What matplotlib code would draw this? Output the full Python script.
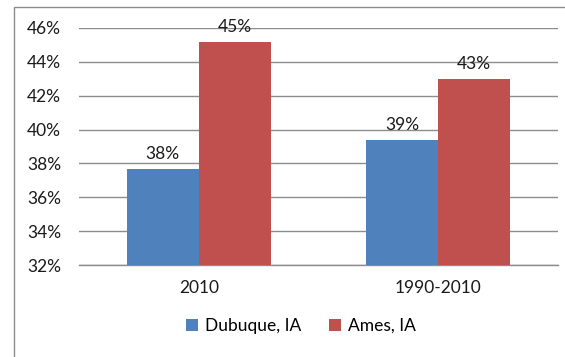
import matplotlib
matplotlib.use("Agg")
import matplotlib.pyplot as plt
from matplotlib.patches import Rectangle
import numpy as np

categories = ["2010", "1990-2010"]
series_names = ["Dubuque, IA", "Ames, IA"]
dubuque = [37.7, 39.4]
ames = [45.2, 43.0]
dubuque_labels = ["38%", "39%"]
ames_labels = ["45%", "43%"]
yticks = [32, 34, 36, 38, 40, 42, 44, 46]
ytick_labels = ["32%", "34%", "36%", "38%", "40%", "42%", "44%", "46%"]

colors = ["#4F81BD", "#C0504D"]
plt.rcParams["font.family"] = ["Lato", "DejaVu Sans"]
FS = 12.5
TXT = "#1a1a1a"

W, H = 565, 357
fig = plt.figure(figsize=(W / 100, H / 100), dpi=100)

# outer chart frame
fig.patches.append(Rectangle((14 / W, -0.1), 1.2, 1 - 7 / H + 0.1,
                             transform=fig.transFigure, fill=False,
                             edgecolor="#8c8c8c", linewidth=1.0))

ax = fig.add_axes([79 / W, 1 - 265 / H, (558 - 79) / W, (265 - 28) / H])
x = np.arange(len(categories))
bw = 0.3
b1 = ax.bar(x - bw / 2, dubuque, bw, color=colors[0], label=series_names[0], zorder=3)
b2 = ax.bar(x + bw / 2, ames, bw, color=colors[1], label=series_names[1], zorder=3)

for bars, labels in ((b1, dubuque_labels), (b2, ames_labels)):
    for rect, lab in zip(bars, labels):
        ax.annotate(lab, (rect.get_x() + rect.get_width() / 2, rect.get_height()),
                    xytext=(0, 5), textcoords="offset points", ha="center",
                    va="bottom", fontsize=FS, color=TXT)

ax.set_ylim(32, 46)
ax.set_xlim(-0.5, 1.5)
ax.set_yticks(yticks)
ax.set_yticklabels(ytick_labels, fontsize=FS, color=TXT)
ax.set_xticks(x)
ax.set_xticklabels(categories, fontsize=FS, color=TXT)
ax.tick_params(axis="y", length=0, pad=13)
ax.tick_params(axis="x", length=0, pad=11)
ax.yaxis.grid(True, color="#8c8c8c", linewidth=1.0, zorder=0)
ax.set_axisbelow(True)
for s in ["top", "right", "left"]:
    ax.spines[s].set_visible(False)
ax.spines["bottom"].set_color("#8c8c8c")
ax.spines["bottom"].set_linewidth(1.0)

fig.legend(handles=[b1, b2], labels=series_names, loc="center",
           bbox_to_anchor=(301 / W, 1 - 326 / H), ncol=2, frameon=False,
           fontsize=FS, handlelength=0.7, handleheight=0.7, handletextpad=0.4,
           columnspacing=1.6)

fig.savefig("out.png", dpi=100)
